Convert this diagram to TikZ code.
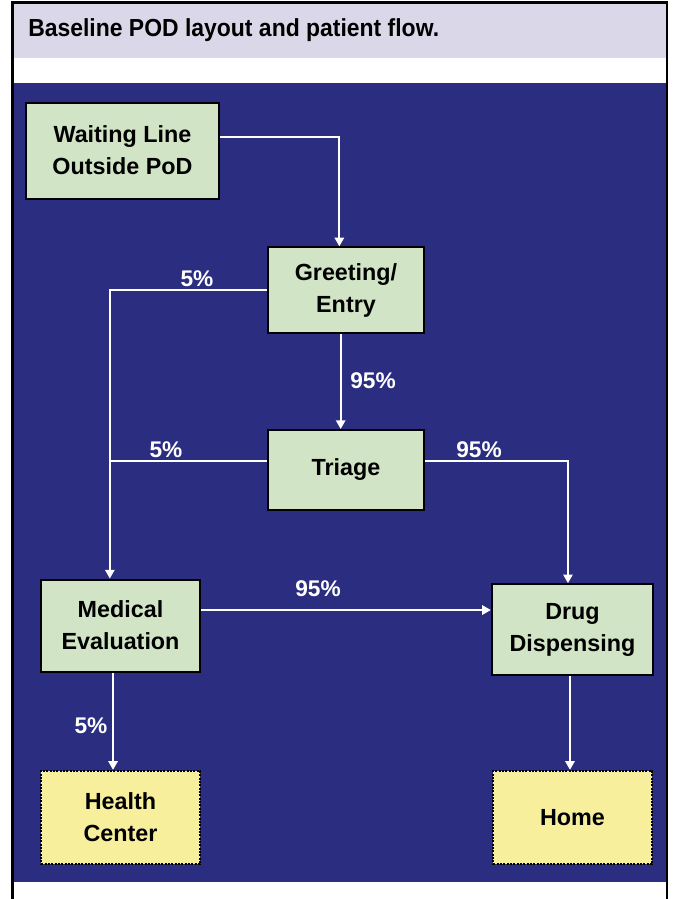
\documentclass[tikz,border=0pt]{standalone}
\usepackage{fontspec}
\setmainfont{Liberation Sans}
\newfontfamily\titlefont[FakeStretch=0.93]{Liberation Sans}
\usetikzlibrary{arrows.meta}

\definecolor{podblue}{RGB}{43,45,128}
\definecolor{podgreen}{RGB}{209,228,197}
\definecolor{podyellow}{RGB}{247,239,156}
\definecolor{podlav}{RGB}{218,216,232}

\tikzset{
  procbox/.style={draw=black, line width=1.5pt, fill=podgreen, align=center,
    font=\fontsize{17.5}{24}\selectfont\bfseries},
  exitbox/.style={procbox, fill=podyellow, dash pattern=on 1.5pt off 1pt},
  flow/.style={draw=white, line width=1.4pt, -{Triangle[length=6.5pt,width=7pt]}},
  pct/.style={text=white, font=\fontsize{17}{20}\selectfont\bfseries, inner sep=0pt}
}

\begin{document}
\begin{tikzpicture}[x=0.75pt,y=-0.75pt]
        \useasboundingbox (0,0) rectangle (673,899);

        % Frame and title
        \fill[podlav] (14,3) rectangle (666,58);
        \fill[podblue] (14,83) rectangle (666,882);
        \draw[line width=2.2pt] (12.5,899) -- (12.5,2.5) -- (667,2.5) -- (667,899);
        \node[anchor=base west, inner sep=0pt, font=\titlefont\fontsize{18.5}{20}\selectfont\bfseries]
          (title) at (28,37) {Baseline POD layout and patient flow.};

        % Stations
        \node[procbox, minimum width=145pt, minimum height=72pt] (wait) at (122.5,150.5) {Waiting Line\\Outside PoD};
        \node[procbox, minimum width=117pt, minimum height=64pt] (greet) at (346,290) {Greeting/\\Entry};
        \node[procbox, minimum width=117pt, minimum height=60pt] (triage) at (346,470) {Triage};
        \node[procbox, minimum width=119pt, minimum height=69pt] (medical) at (120.5,625.5) {Medical\\Evaluation};
        \node[procbox, minimum width=121pt, minimum height=68pt] (drug) at (572.5,629.5) {Drug\\Dispensing};
        \node[exitbox, minimum width=119pt, minimum height=70pt] (health) at (120.5,817.5) {Health\\Center};
        \node[exitbox, minimum width=119pt, minimum height=70pt] (home) at (572.5,817.5) {Home};

        % Patient flow
        \coordinate (side) at ([xshift=-8pt]medical.north);
        \draw[flow] ([yshift=10pt]wait.east) -| ([xshift=-5pt]greet.north);
        \draw[flow] (greet.west) -| (side);
        \draw[flow] ([xshift=-4pt]greet.south) -- ([xshift=-4pt]triage.north);
        \draw[draw=white, line width=1.4pt] ([yshift=7pt]triage.west) -- ([yshift=7pt]triage.west -| side);
        \draw[flow] ([yshift=7pt]triage.east) -| ([xshift=-3.4pt]drug.north);
        \draw[flow] ([yshift=11.6pt]medical.east) -- ([yshift=11.6pt]medical.east -| drug.west);
        \draw[flow] ([xshift=-5.6pt]medical.south) -- ([xshift=-5.6pt]health.north);
        \draw[flow] ([xshift=-1.9pt]drug.south) -- ([xshift=-1.9pt]home.north);

        % Percentages
        \node[pct] (p1) at (197,279) {5\%};
        \node[pct] (p2) at (373,381) {95\%};
        \node[pct] (p3) at (166,450) {5\%};
        \node[pct] (p4) at (479,450) {95\%};
        \node[pct] (p5) at (318,589) {95\%};
        \node[pct] (p6) at (91,726) {5\%};
\end{tikzpicture}
\end{document}
